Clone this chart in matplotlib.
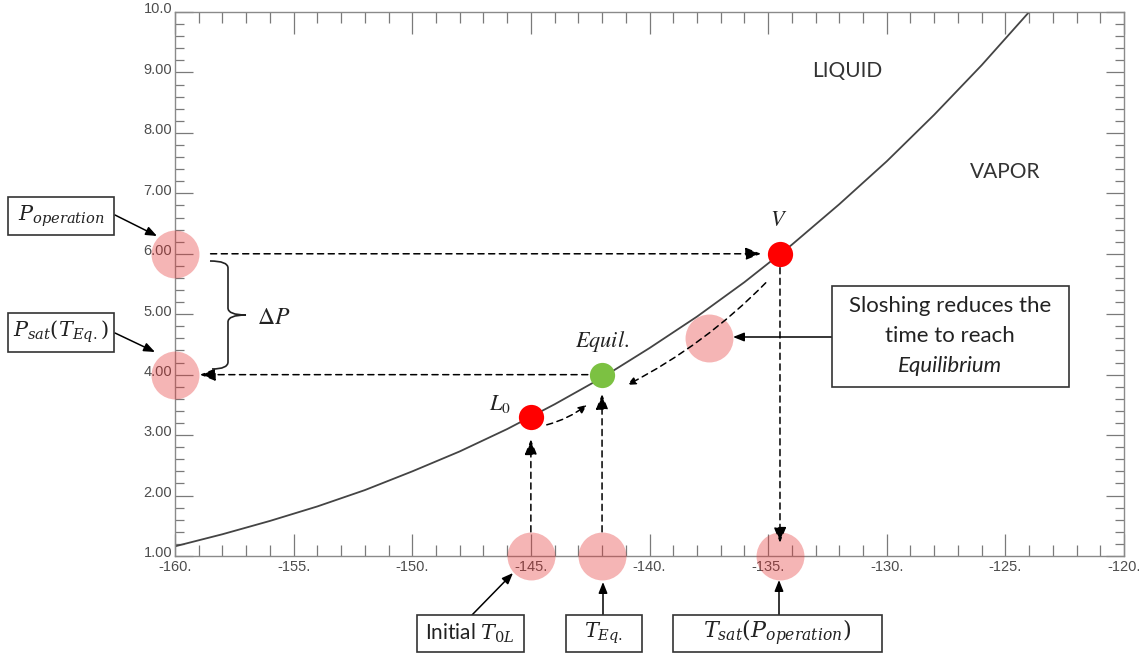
import matplotlib
matplotlib.use("Agg")
import matplotlib.pyplot as plt
import matplotlib.transforms as mtransforms
from matplotlib.ticker import MultipleLocator, FixedLocator, FixedFormatter
from matplotlib.patches import Rectangle, PathPatch
from matplotlib.path import Path

# ---------------- data ----------------
T_curve = [-160, -158, -156, -154, -152, -150, -148, -146, -144, -142,
           -140, -138, -136, -134, -132, -130, -128, -126, -124]
P_curve = [1.16, 1.36, 1.58, 1.82, 2.09, 2.40, 2.73, 3.10, 3.51, 3.95,
           4.44, 4.96, 5.53, 6.15, 6.82, 7.53, 8.30, 9.12, 10.0]

x_ticks = [-160, -155, -150, -145, -140, -135, -130, -125, -120]
x_tick_labels = ["-160.", "-155.", "-150.", "-145.", "-140.", "-135.", "-130.", "-125.", "-120."]
y_ticks = [1, 2, 3, 4, 5, 6, 7, 8, 9, 10]
y_tick_labels = ["1.00", "2.00", "3.00", "4.00", "5.00", "6.00", "7.00", "8.00", "9.00", "10.0"]

T_L0, P_L0 = -145.0, 3.30        # initial liquid state
T_eq, P_eq = -142.0, 4.00        # equilibrium state
T_V, P_V = -134.5, 6.00          # vapour state (operation pressure)
T_slosh, P_slosh = -137.5, 4.61  # sloshing highlight

hl_x = [-160, -160, T_L0, T_eq, T_V, T_slosh]
hl_y = [P_V, P_eq, 1.0, 1.0, 1.0, P_slosh]

# ---------------- figure ----------------
W, H = 1139, 657
plt.rcParams['font.family'] = ['Lato', 'DejaVu Sans']
plt.rcParams['mathtext.fontset'] = 'stix'

fig = plt.figure(figsize=(W / 100, H / 100), dpi=100)
L, R, T, B = 175, 1124, 12, 556
ax = fig.add_axes([L / W, 1 - B / H, (R - L) / W, (B - T) / H])
ax.set_xlim(-160, -120)
ax.set_ylim(1, 10)

for s in ax.spines.values():
    s.set_color('#8a8a8a')
    s.set_linewidth(1.0)

ax.xaxis.set_major_locator(FixedLocator(x_ticks))
ax.xaxis.set_major_formatter(FixedFormatter(x_tick_labels))
ax.yaxis.set_major_locator(FixedLocator(y_ticks))
ax.yaxis.set_major_formatter(FixedFormatter(y_tick_labels))
ax.xaxis.set_minor_locator(MultipleLocator(1))
ax.yaxis.set_minor_locator(MultipleLocator(0.2))
ax.tick_params(which='both', direction='in', top=True, right=True,
               color='#7a7a7a', width=0.9, labelcolor='#4d4d4d')
ax.tick_params(axis='x', which='major', length=16, pad=3)
ax.tick_params(axis='x', which='minor', length=8)
ax.tick_params(axis='y', which='major', length=13, pad=2)
ax.tick_params(axis='y', which='minor', length=6.5)
up = mtransforms.ScaledTranslation(0, 3 / 72, fig.dpi_scale_trans)
for lab in ax.get_xticklabels() + ax.get_yticklabels():
    lab.set_fontfamily('Liberation Sans')
    lab.set_fontsize(10.5)
for lab in ax.get_yticklabels():
    lab.set_transform(lab.get_transform() + up)

# saturation curve
ax.plot(T_curve, P_curve, color='#444444', lw=1.3, zorder=2)

# highlight circles
ax.scatter(hl_x, hl_y, s=1190, color='#e63232', alpha=0.36, linewidths=0,
           clip_on=False, zorder=5)

# state points
ax.scatter([T_L0, T_V], [P_L0, P_V], s=330, color='#ff0000', linewidths=0, zorder=7)
ax.scatter([T_eq], [P_eq], s=330, color='#7cc142', linewidths=0, zorder=7)

# ---------------- dashed arrows (data coords) ----------------
dash = (0, (4, 3))
big = '-|>,head_length=0.55,head_width=0.22'
small = '-|>,head_length=0.5,head_width=0.22'

def darrow(start, end, style=big, ms=17, rad=0.0):
    ax.annotate('', xy=end, xytext=start, xycoords='data', textcoords='data',
                arrowprops=dict(arrowstyle=style, linestyle=dash, lw=1.1, color='black',
                                mutation_scale=ms, shrinkA=0, shrinkB=0,
                                connectionstyle=f'arc3,rad={rad}'),
                zorder=6, annotation_clip=False)

darrow((-158.5, P_V), (-135.3, P_V))            # P_operation -> V
darrow((-142.6, P_eq), (-158.95, P_eq))         # Equil -> P_sat(T_eq)
darrow((T_L0, 1.40), (T_L0, 2.93))              # T0L -> L0
darrow((T_eq, 1.40), (T_eq, 3.68))              # T_eq -> Equil
darrow((T_V, 5.77), (T_V, 1.22))                # V -> T_sat
darrow((-144.33, 3.17), (-142.64, 3.50), style=small, ms=10, rad=0.1)
darrow((-135.1, 5.52), (-140.94, 3.83), style=small, ms=10, rad=-0.08)

# ---------------- annotation boxes (figure pixels, top-left origin) ----------------
def fp(x, y):
    return (x / W, 1 - y / H)

def box(x0, y0, x1, y1):
    r = Rectangle(fp(x0, y1), (x1 - x0) / W, (y1 - y0) / H, transform=fig.transFigure,
                  facecolor='white', edgecolor='#333333', lw=1.2, zorder=10)
    fig.add_artist(r)

def ftext(x, y, s, size=15, ha='center', style='normal', color='#222222', mfam='stix'):
    fig.text(x / W, 1 - y / H, s, ha=ha, va='center', fontsize=size,
             style=style, color=color, zorder=11, math_fontfamily=mfam)

def sarrow(start, end):
    ax.annotate('', xy=(end[0], H - end[1]), xytext=(start[0], H - start[1]),
                xycoords='figure pixels', textcoords='figure pixels',
                arrowprops=dict(arrowstyle='-|>,head_length=0.55,head_width=0.22',
                                lw=1.1, color='black', mutation_scale=12,
                                shrinkA=0, shrinkB=0),
                zorder=9, annotation_clip=False)

DV = 'dejavuserif'
box(8, 197, 114, 235);   ftext(61, 216, r'$P_{operation}$', size=15, mfam=DV)
box(8, 313, 114, 352);   ftext(61, 332, r'$P_{sat}(T_{Eq.})$', size=15, mfam=DV)
box(417, 615, 524, 652); ftext(470, 633, r'Initial $T_{0L}$', size=15, mfam=DV)
box(566, 615, 642, 652); ftext(604, 633, r'$T_{Eq.}$', size=15, mfam=DV)
box(673, 615, 882, 652); ftext(777, 633, r'$T_{sat}(P_{operation})$', size=16, mfam=DV)
box(832, 286, 1069, 387)
ftext(950, 306, 'Sloshing reduces the', size=16)
ftext(950, 336, 'time to reach', size=16)
ftext(950, 366, 'Equilibrium', size=16, style='italic')

sarrow((115, 215), (157, 236))
sarrow((115, 333), (155, 352))
sarrow((472, 615), (513, 573))
sarrow((603, 615), (603, 582))
sarrow((779, 615), (779, 580))
sarrow((832, 337), (733, 337))

# brace for delta P
pts = [(210, 261), (228, 261), (228, 268), (228, 308), (228, 315), (246, 315),
       (228, 315), (228, 322), (228, 362), (228, 369), (212, 369)]
codes = [Path.MOVETO, Path.CURVE3, Path.CURVE3, Path.LINETO, Path.CURVE3, Path.CURVE3,
         Path.CURVE3, Path.CURVE3, Path.LINETO, Path.CURVE3, Path.CURVE3]
brace = PathPatch(Path([fp(x, y) for x, y in pts], codes), transform=fig.transFigure,
                  facecolor='none', edgecolor='#222222', lw=1.2, zorder=9)
fig.add_artist(brace)
ftext(257, 318, r'$\Delta P$', size=17, ha='left')

# region / point labels
ftext(847, 71, 'LIQUID', size=15, color='#333333')
ftext(1005, 172, 'VAPOR', size=15, color='#333333')
ftext(779, 220, r'$V$', size=16)
ftext(602, 342, r'$Equil.$', size=16)
ftext(500, 404, r'$L_0$', size=16)

fig.savefig('out.png', dpi=100)
